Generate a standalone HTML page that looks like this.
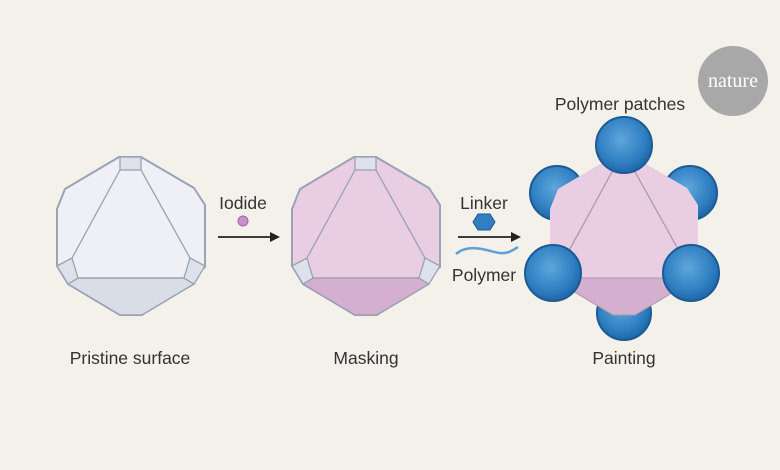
<!DOCTYPE html>
<html><head><meta charset="utf-8"><style>
html,body{margin:0;padding:0;background:#f4f1ea;}
svg{display:block;font-family:"Liberation Sans",sans-serif;}
</style></head><body>
<svg width="780" height="470" viewBox="0 0 780 470">
<defs>
<radialGradient id="sph" cx="0.45" cy="0.4" r="0.6">
<stop offset="0" stop-color="#5fa6dc"/><stop offset="0.7" stop-color="#2f7fc1"/><stop offset="1" stop-color="#1f67a8"/>
</radialGradient>
<g id="crys">
<polygon points="119,157 141,157 194,188 205,205 205,267 186,283 142,315 120,315 68,284 57,266 57,209 65,189" fill="var(--f)" stroke="#9aa2b4" stroke-width="2" stroke-linejoin="round"/>
<polygon points="78,278 184,278 194,284 142,315 120,315 68,284" fill="var(--b)" stroke="#9aa2b4" stroke-width="1.5"/>
<line x1="120" y1="170" x2="72" y2="258" stroke="#9aa2b4" stroke-width="1.3"/>
<line x1="141" y1="170" x2="190" y2="258" stroke="#9aa2b4" stroke-width="1.3"/>
<rect x="120" y="157" width="21" height="13" fill="#dde2ea" stroke="#9aa2b4" stroke-width="1.3"/>
<polygon points="57,266 72,258 78,278 68,284" fill="#dde2ea" stroke="#9aa2b4" stroke-width="1.3"/>
<polygon points="205,266 190,258 184,278 194,284" fill="#dde2ea" stroke="#9aa2b4" stroke-width="1.3"/>
</g>
</defs>
<use href="#crys" style="--f:#eef0f5;--b:#d9dde6"/>
<use href="#crys" x="235" style="--f:#e8cde3;--b:#d4afcf"/>
<g stroke="#1b5a94" stroke-width="2" fill="url(#sph)">
<circle cx="557" cy="193" r="27"/><circle cx="690" cy="193" r="27"/><circle cx="624" cy="313" r="27"/>
</g>
<g transform="translate(493,0)">
<polygon points="119,157 141,157 194,188 205,205 205,267 186,283 142,315 120,315 68,284 57,266 57,209 65,189" fill="#e8cde3" stroke="none"/>
<polygon points="78,278 184,278 194,284 142,315 120,315 68,284" fill="#d4afcf" stroke="#a99aae" stroke-width="1"/>
<line x1="120" y1="170" x2="72" y2="258" stroke="#a99aae" stroke-width="1.3"/>
<line x1="141" y1="170" x2="190" y2="258" stroke="#a99aae" stroke-width="1.3"/>
</g>
<g stroke="#1b5a94" stroke-width="2" fill="url(#sph)">
<circle cx="624" cy="145" r="28"/><circle cx="553" cy="273" r="28"/><circle cx="691" cy="273" r="28"/>
</g>
<text x="243" y="209" font-size="17.5" text-anchor="middle" fill="#333">Iodide</text>
<circle cx="243" cy="221" r="5" fill="#c98fc8" stroke="#9a6aa0"/>
<line x1="218" y1="237" x2="272" y2="237" stroke="#222" stroke-width="1.8"/>
<polygon points="280,237 270,232 270,242" fill="#222"/>
<text x="484" y="209" font-size="17.5" text-anchor="middle" fill="#333">Linker</text>
<polygon points="478,214 490,214 495,222 490,230 478,230 473,222" fill="#2f7fc1" stroke="#1b5a94"/>
<line x1="458" y1="237" x2="512" y2="237" stroke="#222" stroke-width="1.8"/>
<polygon points="521,237 511,232 511,242" fill="#222"/>
<path d="M456,254 C470,242 490,252 500,253 C508,254 513,250 518,247" fill="none" stroke="#5fa0d6" stroke-width="2.5"/>
<text x="484" y="281" font-size="17.5" text-anchor="middle" fill="#333">Polymer</text>
<text x="130" y="364" font-size="17.5" text-anchor="middle" fill="#333">Pristine surface</text>
<text x="366" y="364" font-size="17.5" text-anchor="middle" fill="#333">Masking</text>
<text x="624" y="364" font-size="17.5" text-anchor="middle" fill="#333">Painting</text>
<text x="620" y="110" font-size="17.5" text-anchor="middle" fill="#333">Polymer patches</text>
<circle cx="733" cy="81" r="35" fill="#a8a8a8"/>
<text x="733" y="87" font-size="20" text-anchor="middle" fill="#fff" font-family="Liberation Serif,serif">nature</text>
</svg>
</body></html>
